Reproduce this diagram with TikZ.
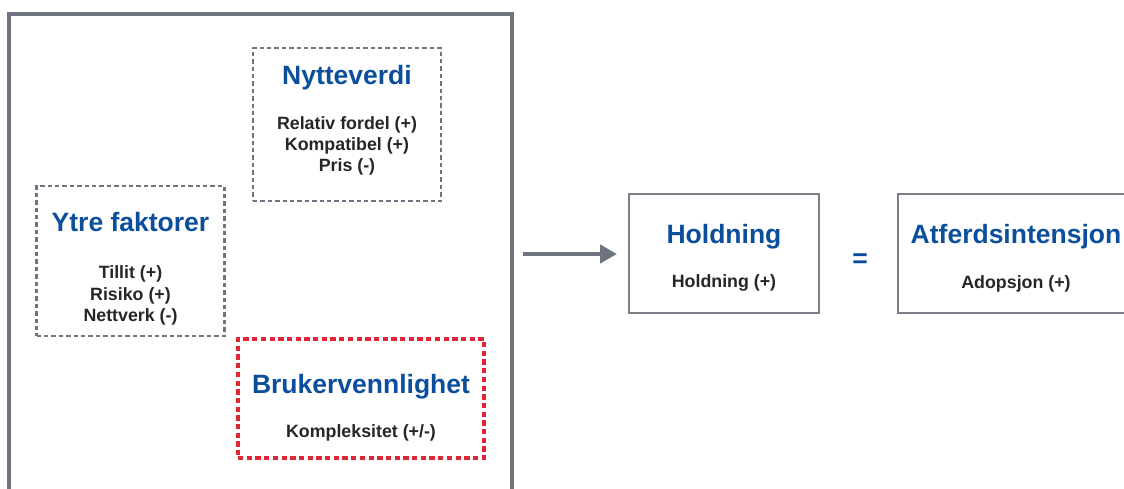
\documentclass[tikz,border=0pt]{standalone}
\usepackage{fontspec}
\setmainfont{Liberation Sans}
\usetikzlibrary{arrows.meta}
\definecolor{titleblue}{HTML}{0B4F9C}
\definecolor{bodyink}{HTML}{262626}
\definecolor{framegray}{HTML}{6E7480}
\definecolor{boxgray}{HTML}{7A7F88}
\definecolor{alertred}{HTML}{E02535}
\tikzset{
  frame/.style={draw=framegray, line width=3.5pt, inner sep=0pt, outer sep=0pt},
  graydash/.style={draw=framegray, line width=2.8pt, dash pattern=on 4.4pt off 3pt, inner sep=0pt},
  reddash/.style={draw=alertred, line width=3.2pt, dash pattern=on 5.3pt off 3.4pt, inner sep=0pt},
  solidbox/.style={draw=boxgray, line width=2pt, inner sep=0pt},
  title/.style={anchor=base, inner sep=0pt, text=titleblue,
    font=\fontsize{26.5pt}{30pt}\selectfont\bfseries},
  % multi-line body text: the base anchor sits on the last line
  body/.style={anchor=base, inner sep=0pt, text=bodyink, align=center,
    font=\fontsize{17.8pt}{21.4pt}\selectfont\bfseries},
  flow/.style={draw=framegray, line width=4.5pt,
    -{Triangle[length=17pt,width=18pt]}}
}
\begin{document}
\begin{tikzpicture}[x=1pt,y=-1pt]
\useasboundingbox (0,0) rectangle (1124,489);
\clip (0,0) rectangle (1124,489);
\fill[white] (0,0) rectangle (1124,489);

% outer frame around the three factor groups (runs past the lower edge)
\node[frame, minimum width=503pt, minimum height=530pt] (frame) at (260.5,279) {};

% factor groups
\node[graydash, minimum width=188pt, minimum height=153pt] (nytte) at (347,124.5) {};
\node[title] (nytteT) at (347,84.5) {Nytteverdi};
\node[body] (nytteB) at (347,172) {Relativ fordel (+)\\Kompatibel (+)\\Pris (-)};

\node[graydash, minimum width=188pt, minimum height=150pt] (ytre) at (130.5,261) {};
\node[title] (ytreT) at (130.5,232) {Ytre faktorer};
\node[body] (ytreB) at (130.5,321.5) {Tillit (+)\\Risiko (+)\\Nettverk (-)};

\node[reddash, minimum width=246pt, minimum height=119pt] (bruker) at (361,398.5) {};
\node[title] (brukerT) at (361,393.5) {Brukervennlighet};
\node[body] (brukerB) at (361,437.5) {Kompleksitet (+/-)};

% outcome boxes
\node[solidbox, minimum width=190pt, minimum height=119pt] (hold) at (724,253.5) {};
\node[title] (holdT) at (724,243) {Holdning};
\node[body] (holdB) at (724,287.5) {Holdning (+)};

\node[solidbox, minimum width=250pt, minimum height=118pt] (atf) at (1023,253.5) {};
\node[title] (atfT) at (1016,243) {Atferdsintensjon};
\node[body] (atfB) at (1016,288) {Adopsjon (+)};

\node[title] (eq) at (860,267) {=};

% frame feeds into the attitude box
\draw[flow, shorten <=11pt, shorten >=11pt] (frame.east |- 0,254) -- (hold.west |- 0,254);
\end{tikzpicture}
\end{document}
